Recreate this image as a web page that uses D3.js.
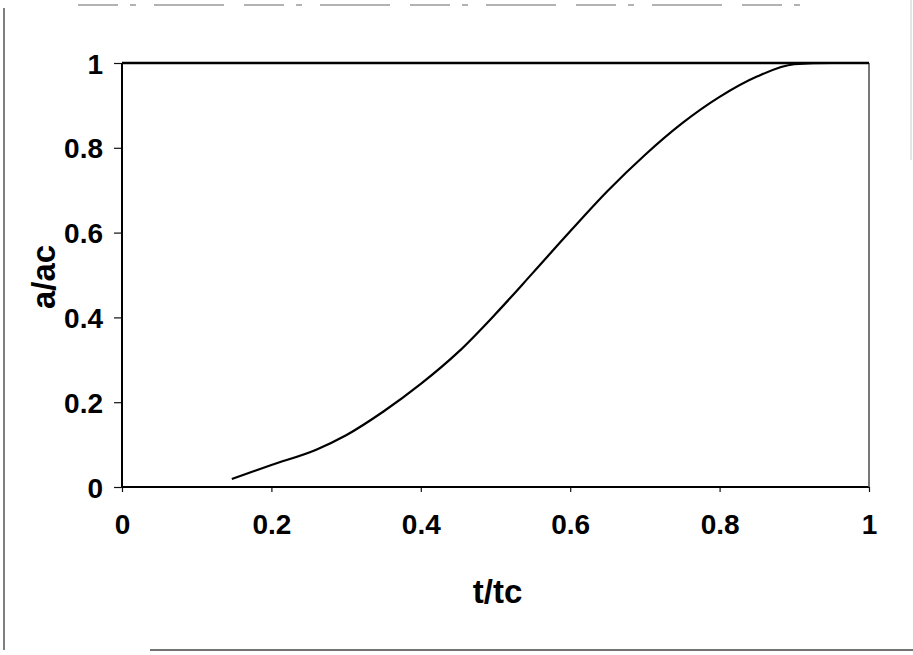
<!DOCTYPE html>
<html>
<head>
<meta charset="utf-8">
<script src="https://cdn.jsdelivr.net/npm/d3@7"></script>
<style>
  body { margin: 0; background: #fff; }
  svg { display: block; }
  .tick text { font-family: "Liberation Sans", Arial, sans-serif; font-weight: bold; }
</style>
</head>
<body>
<div id="chart"></div>
<script>
// values
var tValues = [0.147, 0.20, 0.26, 0.30, 0.35, 0.40, 0.45, 0.50, 0.55, 0.60, 0.65, 0.70, 0.75, 0.80, 0.85, 0.90, 0.95, 1.00];
var aValues = [0.019, 0.052, 0.088, 0.122, 0.178, 0.243, 0.318, 0.408, 0.505, 0.603, 0.698, 0.783, 0.858, 0.920, 0.968, 0.997, 1.000, 1.000];
var xTicks = [0, 0.2, 0.4, 0.6, 0.8, 1];
var yTicks = [0, 0.2, 0.4, 0.6, 0.8, 1];

var W = 913, H = 655;
// sizing information
var margin = { top: 63, right: 44, bottom: 168, left: 122 },
	width = W - margin.left - margin.right,
	height = H - margin.top - margin.bottom;

var svg = d3.select("#chart")
	.append("svg")
	.attr("width", W)
	.attr("height", H);

// page frame left over from the scan
svg.append("line")
	.attr("x1", 4).attr("x2", 4).attr("y1", 8).attr("y2", 650)
	.attr("stroke", "#555").attr("stroke-width", 1.5);
svg.append("line")
	.attr("x1", 150).attr("x2", W).attr("y1", 650).attr("y2", 650)
	.attr("stroke", "#444").attr("stroke-width", 1.5);
svg.append("line")
	.attr("x1", 78).attr("x2", 815).attr("y1", 5).attr("y2", 5)
	.attr("stroke", "#666").attr("stroke-width", 1)
	.attr("stroke-dasharray", "40 12 6 18 70 20");
svg.append("line")
	.attr("x1", 911).attr("x2", 911).attr("y1", 0).attr("y2", 160)
	.attr("stroke", "#ccc").attr("stroke-width", 1);

var main = svg.append("g")
	.attr("transform", "translate(" + margin.left + "," + margin.top + ")");

var x = d3.scaleLinear().domain([0, 1]).range([0, width]);
var y = d3.scaleLinear().domain([0, 1]).range([height, 0]);

var xAxis = d3.axisBottom(x)
	.tickValues(xTicks)
	.tickFormat(d3.format("~g"))
	.tickSizeInner(5)
	.tickSizeOuter(0)
	.tickPadding(22);
var yAxis = d3.axisLeft(y)
	.tickValues(yTicks)
	.tickFormat(d3.format("~g"))
	.tickSizeInner(8)
	.tickSizeOuter(0)
	.tickPadding(11);

var gx = main.append("g")
	.attr("transform", "translate(0," + height + ")")
	.call(xAxis);
var gy = main.append("g").call(yAxis);

[gx, gy].forEach(function(g) {
	g.select(".domain").remove();
	g.selectAll(".tick line").attr("stroke", "#111").attr("stroke-width", 1.2);
	g.selectAll(".tick text").attr("font-size", "28px").attr("fill", "#000");
});
gx.selectAll(".tick text").attr("dy", "0.71em");
gy.selectAll(".tick text").attr("dy", "0.36em");

// plot frame
main.append("line")
	.attr("x1", 0).attr("x2", width).attr("y1", 0).attr("y2", 0)
	.attr("stroke", "#000").attr("stroke-width", 2.4);
main.append("line")
	.attr("x1", 0).attr("x2", 0).attr("y1", 0).attr("y2", height)
	.attr("stroke", "#000").attr("stroke-width", 2);
main.append("line")
	.attr("x1", 0).attr("x2", width).attr("y1", height).attr("y2", height)
	.attr("stroke", "#000").attr("stroke-width", 2);
main.append("line")
	.attr("x1", width).attr("x2", width).attr("y1", 0).attr("y2", height)
	.attr("stroke", "#555").attr("stroke-width", 1.6);

// the curve
var data = tValues.map(function(t, i) { return { t: t, a: aValues[i] }; });
var line = d3.line()
	.x(function(d) { return x(d.t); })
	.y(function(d) { return y(d.a); })
	.curve(d3.curveMonotoneX);
main.append("path")
	.datum(data)
	.attr("fill", "none")
	.attr("stroke", "#000")
	.attr("stroke-width", 2.2)
	.attr("d", line);

// axis titles
svg.append("text")
	.attr("x", margin.left + width / 2 + 2)
	.attr("y", 603)
	.attr("text-anchor", "middle")
	.attr("font-family", "\"Liberation Sans\", Arial, sans-serif")
	.attr("font-weight", "bold")
	.attr("font-size", "33px")
	.text("t/tc");
svg.append("text")
	.attr("transform", "translate(55," + (margin.top + height / 2 + 2) + ") rotate(-90)")
	.attr("text-anchor", "middle")
	.attr("font-family", "\"Liberation Sans\", Arial, sans-serif")
	.attr("font-weight", "bold")
	.attr("font-size", "33px")
	.text("a/ac");
</script>
</body>
</html>
